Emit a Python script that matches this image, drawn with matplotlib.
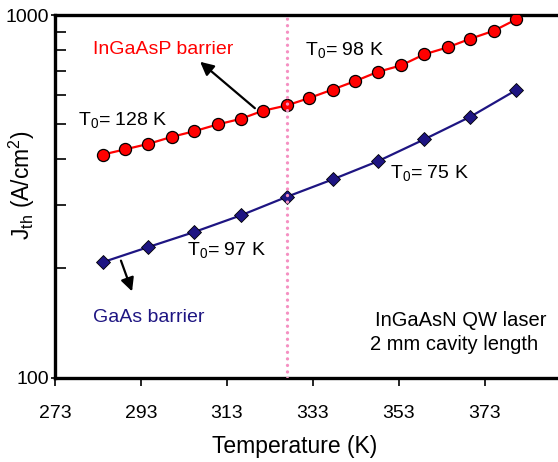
import numpy as np
import matplotlib
matplotlib.use("Agg")
import matplotlib.pyplot as plt
from matplotlib.ticker import LogLocator, NullFormatter, FixedLocator

# Font tipo Arial
plt.rcParams['font.family'] = ['Liberation Sans', 'DejaVu Sans']
plt.rcParams['mathtext.fontset'] = 'custom'
plt.rcParams['mathtext.rm'] = 'Liberation Sans'
plt.rcParams['mathtext.it'] = 'Liberation Sans'

# Datos
temp_ingaasp = [284.1, 289.3, 294.7, 300.1, 305.4, 310.8, 316.2, 321.3, 326.9, 332.1,
                337.6, 342.8, 348.1, 353.5, 358.9, 364.3, 369.6, 375.1, 380.3]
jth_ingaasp = [412, 426, 441, 461, 478, 499, 517, 544, 563, 590,
               623, 657, 697, 726, 779, 814, 860, 905, 973]

temp_gaas = [284.1, 294.7, 305.4, 316.2, 326.9, 337.6, 348.1, 358.9, 369.6, 380.3]
jth_gaas = [208, 229, 252, 280, 315, 352, 395, 454, 524, 621]

t_corte = 326.9
xticks = [273, 293, 313, 333, 353, 373]

fig = plt.figure(figsize=(5.58, 4.62), dpi=100)
ax = fig.add_axes([0.0986, 0.1829, 0.9014, 0.7846])

ax.plot(temp_ingaasp, jth_ingaasp, '-', color='#ff0000', lw=1.6,
        marker='o', ms=8.7, mfc='#ff0000', mec='black', mew=0.9, zorder=3)
ax.plot(temp_gaas, jth_gaas, '-', color='#1e1582', lw=1.6,
        marker='D', ms=7.3, mfc='#1e1582', mec='black', mew=0.6, zorder=3)

# linea vertical punteada
ax.axvline(t_corte, color='#f590c2', lw=2.4, linestyle=(0, (0.01, 1.95)),
           dash_capstyle='round', zorder=4)

ax.set_yscale('log')
ax.set_xlim(273, 390)
ax.set_ylim(100, 1000)

ax.xaxis.set_major_locator(FixedLocator(xticks))
ax.set_xticklabels([str(t) for t in xticks])
ax.yaxis.set_major_locator(FixedLocator([100, 1000]))
ax.set_yticklabels(['100', '1000'])
ax.yaxis.set_minor_locator(LogLocator(base=10, subs=np.arange(2, 10)))
ax.yaxis.set_minor_formatter(NullFormatter())

ax.tick_params(axis='x', direction='out', length=6, width=1.2, labelsize=14, pad=14)
ax.tick_params(axis='y', which='major', direction='out', length=3, width=1.2,
               labelsize=14, pad=1)
ax.tick_params(axis='y', which='minor', direction='in', length=8, width=1.2)

for s in ['left', 'bottom', 'top']:
    ax.spines[s].set_linewidth(2.4)
ax.spines['right'].set_visible(False)

ax.set_xlabel('Temperature (K)', fontsize=16.5)
ax.xaxis.set_label_coords((295 - 55) / 503, -0.16)
ax.set_ylabel('J$_{\\rm th}$ (A/cm$^2$)', fontsize=16.5)
ax.yaxis.set_label_coords(-0.036, 0.53)

# textos
fs = 14
def px(x, y):
    return fig.transFigure.inverted().transform(fig.dpi_scale_trans.transform((x / 100, (462 - y) / 100)))

fig.text(*px(93, 50), 'InGaAsP barrier', color='#ff0000', fontsize=fs, va='center')
fig.text(*px(305, 50), 'T$_0$= 98 K', color='black', fontsize=fs, va='center')
fig.text(*px(78, 120), 'T$_0$= 128 K', color='black', fontsize=fs, va='center')
fig.text(*px(390, 173), 'T$_0$= 75 K', color='black', fontsize=fs, va='center')
fig.text(*px(187, 250), 'T$_0$= 97 K', color='black', fontsize=fs, va='center')
fig.text(*px(93, 317), 'GaAs barrier', color='#1e1582', fontsize=fs, va='center')
fig.text(*px(375, 320), 'InGaAsN QW laser', color='black', fontsize=14.5, va='center')
fig.text(*px(370, 345), '2 mm cavity length', color='black', fontsize=14.5, va='center')

# flechas
ax.annotate('', xy=px(198, 60), xycoords='figure fraction',
            xytext=px(257, 110), textcoords='figure fraction',
            arrowprops=dict(arrowstyle='-|>', color='black', lw=1.6, mutation_scale=20))
ax.annotate('', xy=px(133, 294), xycoords='figure fraction',
            xytext=px(120, 258), textcoords='figure fraction',
            arrowprops=dict(arrowstyle='-|>', color='black', lw=1.6, mutation_scale=20))

fig.savefig('out.png', dpi=100)
